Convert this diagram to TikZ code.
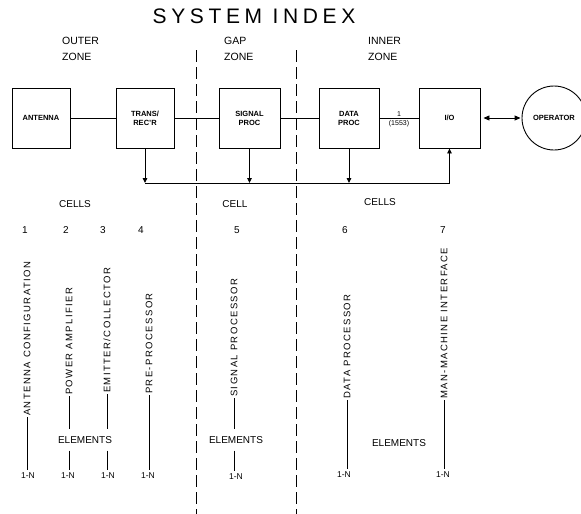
\documentclass[tikz,border=0pt]{standalone}
\usepackage{fontspec}
\setmainfont{Liberation Sans}
\newfontfamily\vfont[LetterSpace=15]{Liberation Sans}
\newfontfamily\tfont[LetterSpace=22]{Liberation Sans}
\usetikzlibrary{arrows.meta}
\begin{document}
\begin{tikzpicture}[x=1pt,y=-1pt,
  blk/.style={draw, line width=0.9pt, minimum width=58pt, minimum height=60pt, inner sep=0pt,
    font=\bfseries\fontsize{7.5}{9}\selectfont, align=center},
  zone/.style={font=\fontsize{10.5}{16}\selectfont, align=left, anchor=north west, inner sep=0pt},
  lab/.style={font=\fontsize{10}{12}\selectfont, inner sep=1pt},
  elem/.style={font=\fontsize{10}{12}\selectfont, inner xsep=1pt, inner ysep=7pt},
  vt/.style={font=\vfont\fontsize{9.5}{11}\selectfont, rotate=90, anchor=west, inner sep=1pt},
  nn/.style={font=\fontsize{8.5}{10}\selectfont, inner sep=2.5pt},
  ln/.style={line width=0.9pt},
  arr/.style={line width=0.9pt, -{Triangle[length=5pt,width=4.5pt]}},
  darr/.style={line width=0.9pt, {Triangle[length=6pt,width=5pt]}-{Triangle[length=6pt,width=5pt]}},
  zdash/.style={line width=0.9pt, dash pattern=on 12pt off 5pt}
]
\useasboundingbox (0,0) rectangle (581,514);

% title and zones
\node[font=\tfont\fontsize{21}{24}\selectfont] (title) at (254,16) {SYSTEM INDEX};
\node[zone] (oz) at (62,37) {OUTER\\ZONE};
\node[zone] (gz) at (224,37) {GAP\\ZONE};
\node[zone] (iz) at (368,37) {INNER\\ZONE};

% zone separators
\coordinate (d1t) at (196,50);
\coordinate (d1b) at (196,514);
\coordinate (d2t) at (296,50);
\coordinate (d2b) at (296,514);
\draw[zdash] (d1t) -- (d1b);
\draw[zdash] (d2t) -- (d2b);

% blocks
\node[blk] (ant) at (41,118) {ANTENNA};
\node[blk] (trans) at (145,118) {TRANS/\\REC'R};
\node[blk, minimum width=61pt] (sig) at (249.5,118) {SIGNAL\\PROC};
\node[blk, minimum width=60pt] (data) at (349,118) {DATA\\PROC};
\node[blk, minimum width=61pt] (io) at (449.5,118) {I/O};
\node[draw, circle, line width=0.9pt, minimum size=64pt, inner sep=0pt,
  font=\bfseries\fontsize{7.5}{9}\selectfont] (op) at (554,118) {OPERATOR};

\draw[ln] (ant) -- (trans);
\draw[ln] (trans) -- (sig);
\draw[ln] (sig) -- (data);
\draw[ln] (data) -- node[above, font=\fontsize{7}{8}\selectfont, inner sep=1.5pt] {1}
  node[below, font=\fontsize{7}{8}\selectfont, inner sep=1.5pt] {(1553)} (io);
\draw[darr, shorten <=3pt, shorten >=1pt] (io) -- (op);

% bus
\coordinate (busy) at (0,183);
\draw[ln] (trans |- busy) -- (io |- busy);
\draw[arr] (trans) -- (trans |- busy);
\draw[arr] (sig) -- (sig |- busy);
\draw[arr] (data) -- (data |- busy);
\draw[arr] (io |- busy) -- (io);

% cells
\node[lab] (cl) at (75,204) {CELLS};
\node[lab] (cm) at (235,204) {CELL};
\node[lab] (cr) at (380,202) {CELLS};

\node[lab] (k1) at (25,230) {1};
\node[lab] (k2) at (66,230) {2};
\node[lab] (k3) at (103,230) {3};
\node[lab] (k4) at (141,230) {4};
\node[lab] (k5) at (237,230) {5};
\node[lab] (k6) at (345,230) {6};
\node[lab] (k7) at (443,230) {7};

% element names
\node[vt] (t1) at (27,417) {ANTENNA CONFIGURATION};
\node[vt] (t2) at (69,396) {POWER AMPLIFIER};
\node[vt] (t3) at (107,394) {EMITTER/COLLECTOR};
\node[vt] (t4) at (149,395) {PRE-PROCESSOR};
\node[vt] (t5) at (234,398) {SIGNAL PROCESSOR};
\node[vt] (t6) at (347,400) {DATA PROCESSOR};
\node[vt] (t7) at (444,400) {MAN-MACHINE INTERFACE};

\node[elem] (e1) at (85,440) {ELEMENTS};
\node[elem] (e2) at (236,440) {ELEMENTS};
\node[elem] (e3) at (399,443) {ELEMENTS};

\node[nn] (n1) at (28,476) {1-N};
\node[nn] (n2) at (68,476) {1-N};
\node[nn] (n3) at (108,476) {1-N};
\node[nn] (n4) at (148,476) {1-N};
\node[nn] (n5) at (236,477) {1-N};
\node[nn] (n6) at (344,475) {1-N};
\node[nn] (n7) at (443,475) {1-N};

\draw[ln] (t1.west) -- (t1.west |- n1.north);
\draw[ln] (t2.west) -- (t2.west |- e1.north);
\draw[ln] (t2.west |- e1.south) -- (t2.west |- n2.north);
\draw[ln] (t3.west) -- (t3.west |- e1.north);
\draw[ln] (t3.west |- e1.south) -- (t3.west |- n3.north);
\draw[ln] (t4.west) -- (t4.west |- n4.north);
\draw[ln] (t5.west) -- (t5.west |- e2.north);
\draw[ln] (t5.west |- e2.south) -- (t5.west |- n5.north);
\draw[ln] (t6.west) -- (t6.west |- n6.north);
\draw[ln] (t7.west) -- (t7.west |- n7.north);
\end{tikzpicture}
\end{document}
